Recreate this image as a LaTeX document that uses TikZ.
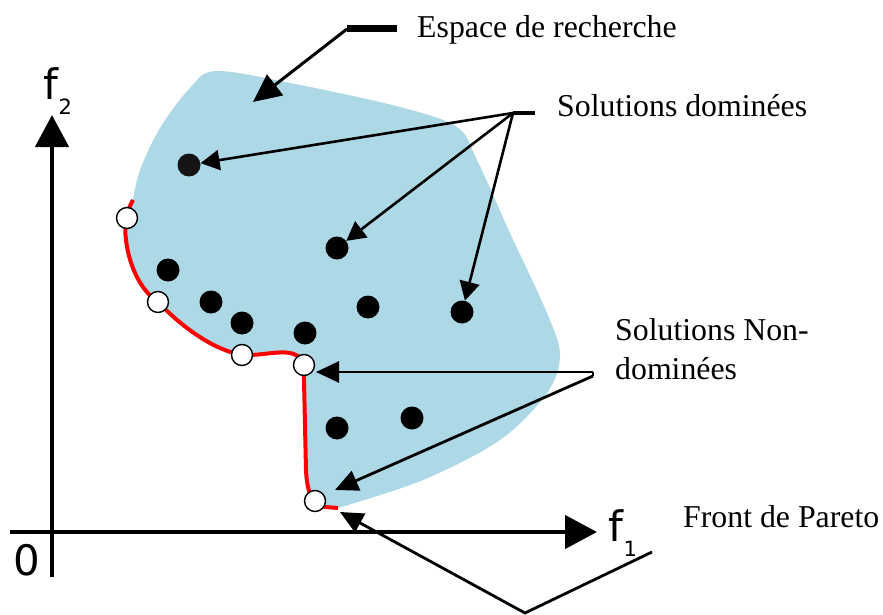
\documentclass[tikz,border=0pt]{standalone}
\usepackage{fontspec}
\setmainfont{Liberation Serif}
\newfontfamily\axfont{DejaVu Sans}
\usetikzlibrary{arrows.meta}
\definecolor{spaceblue}{RGB}{173,216,230}
\begin{document}
\begin{tikzpicture}[x=1pt,y=-1pt,
  lbl/.style={anchor=base west, inner sep=0pt, font=\fontsize{31.8}{36}\selectfont},
  axlbl/.style={anchor=base west, inner sep=0pt, font=\axfont\fontsize{42}{42}\selectfont},
  sublbl/.style={anchor=base west, inner sep=0pt, font=\axfont\fontsize{21}{21}\selectfont},
  dom/.style={circle, fill=black, minimum size=23pt, inner sep=0pt},
  nondom/.style={circle, draw=black, line width=1.4pt, fill=white, minimum size=21pt, inner sep=0pt},
  axis/.style={line width=4.5pt, -{Triangle[length=32pt,width=33pt]}},
  ptrsmall/.style={line width=2.6pt, -{Triangle[length=19pt,width=20pt]}},
  ptr/.style={line width=2.8pt, line join=miter, -{Triangle[length=23pt,width=21pt]}},
  frontline/.style={red, line width=4pt}]
\useasboundingbox (0,0) rectangle (883,615);

% search space
\fill[spaceblue] (133,200) .. controls (126,212) and (124,225) .. (126,240)
  .. controls (129,265) and (140,290) .. (158,302)
  .. controls (185,330) and (215,350) .. (242,355)
  .. controls (265,356) and (285,348) .. (298,356)
  .. controls (304,360) and (304,370) .. (304,380)
  -- (306,470) .. controls (307,492) and (312,505) .. (325,507) -- (338,508)
  -- plot[smooth, tension=0.55] coordinates {(338,508) (423,480) (500,440) (547,393) (560,355) (547,313) (510,233) (477,160) (457,127) (400,107) (300,85) (217,71) (190,88) (160,128) (140,170) (133,200)}
  -- cycle;

% Pareto front (red)
\draw[frontline] (133,200) .. controls (126,212) and (124,225) .. (126,240)
  .. controls (129,265) and (140,290) .. (158,302)
  .. controls (185,330) and (215,350) .. (242,355)
  .. controls (265,356) and (285,348) .. (298,356)
  .. controls (304,360) and (304,370) .. (304,380)
  -- (306,470) .. controls (307,492) and (312,505) .. (325,507) -- (338,508);

% axes
\coordinate (ybot) at (52,577);
\coordinate (ytop) at (52,115);
\coordinate (xleft) at (10,532);
\coordinate (xright) at (597,532);
\draw[axis] (ybot) -- (ytop);
\draw[axis] (xleft) -- (xright);
\node[axlbl] (f2) at (43,100) {f};
\node[sublbl] (f2s) at (58.5,115) {2};
\node[axlbl] (f1) at (608,541) {f};
\node[sublbl] (f1s) at (623.5,556) {1};
\node[axlbl] (zero) at (13,575) {0};

% dominated solutions
\node[dom, fill=black!92] (d1) at (189,165) {};
\node[dom] (d2) at (337,248) {};
\node[dom] (d3) at (168,270) {};
\node[dom] (d4) at (211,302) {};
\node[dom] (d5) at (368,307) {};
\node[dom] (d6) at (462,312) {};
\node[dom] (d7) at (242,323) {};
\node[dom] (d8) at (305,333) {};
\node[dom] (d9) at (337,428) {};
\node[dom] (d10) at (412,418) {};

% non-dominated solutions
\node[nondom] (n1) at (127,218) {};
\node[nondom] (n2) at (158,302) {};
\node[nondom] (n3) at (242,355) {};
\node[nondom] (n4) at (304,365) {};
\node[nondom] (n5) at (315,501) {};

% labels
\node[lbl] (esp) at (417,38) {Espace de recherche};
\node[lbl] (sd) at (557,117) {Solutions dominées};
\node[lbl] (snd) at (615,340) {Solutions Non-};
\node[lbl] (snd2) at (615,379) {dominées};
\node[lbl] (fp) at (683,527) {Front de Pareto};

% Espace de recherche connector
\coordinate (e0) at (397,29);
\coordinate (e1) at (347,29);
\coordinate (e2) at (253,102);
\draw[line width=7pt] (e0) -- (e1);
\draw[line width=3pt, -{Triangle[length=28pt,width=26pt]}] (e1) -- (e2);

% Solutions dominees connectors
\coordinate (h1) at (535,113);
\coordinate (h0) at (513,113);
\draw[line width=4.5pt] (h1) -- (h0);
\draw[ptrsmall] (h0) -- (d1);
\draw[ptrsmall] (h0) -- (d2);
\draw[ptrsmall] (h0) -- (d6);

% Solutions non-dominees connectors
\coordinate (k0) at (593,372);
\coordinate (k1) at (593,376);
\coordinate (ka) at (316,372);
\coordinate (kb) at (335,490);
\draw[line width=2.8pt] (k0) -- (k1);
\draw[ptr] (k0) -- (ka);
\draw[ptr] (k1) -- (kb);

% Front de Pareto connector
\coordinate (p0) at (652,552);
\coordinate (p1) at (525,613);
\coordinate (p2) at (340,512);
\draw[ptr] (p0) -- (p1) -- (p2);
\end{tikzpicture}
\end{document}
